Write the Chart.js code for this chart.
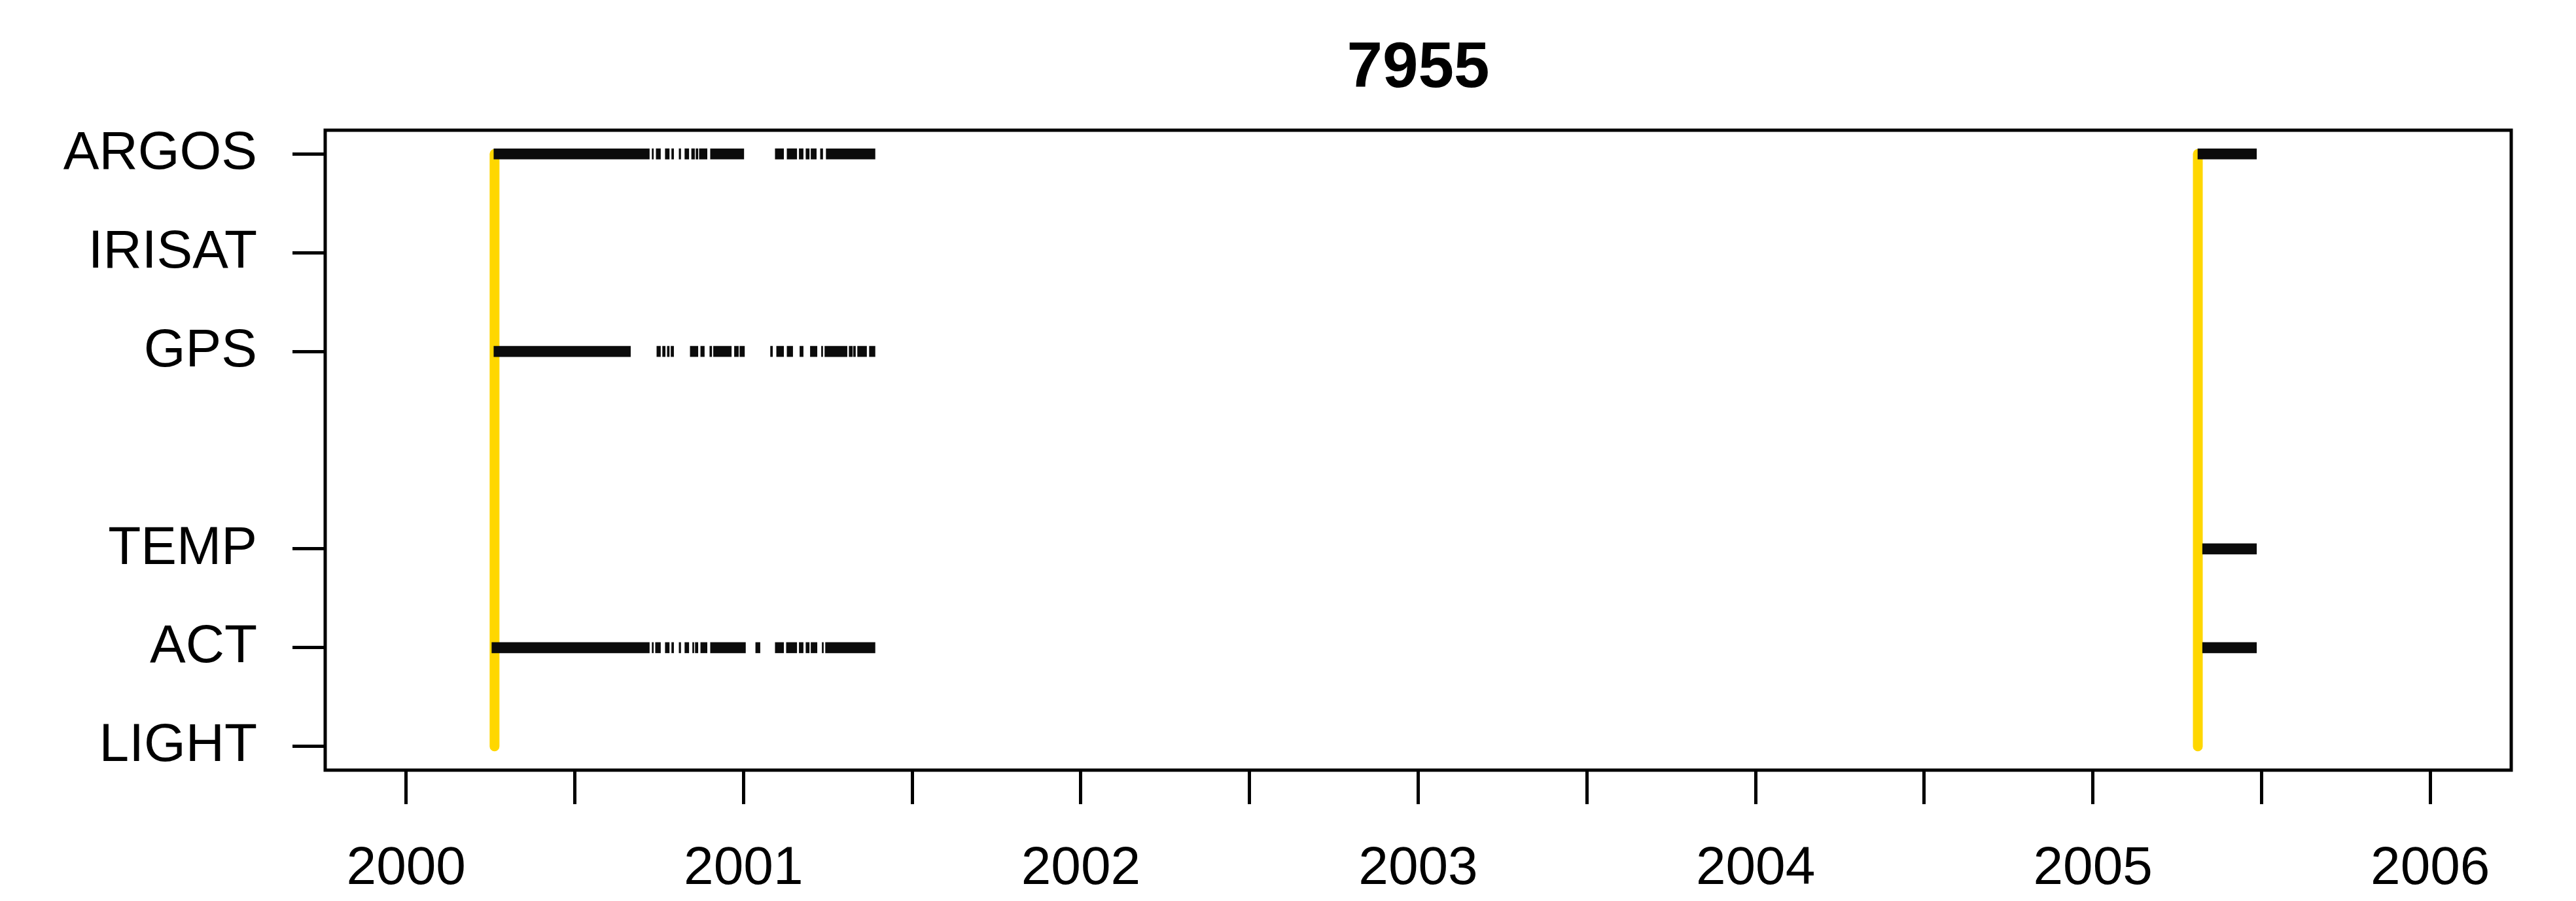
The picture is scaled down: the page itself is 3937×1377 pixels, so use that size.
<!DOCTYPE html>
<html>
<head>
<meta charset="utf-8">
<script src="https://cdn.jsdelivr.net/npm/chart.js@4"></script>
<style>
  html, body { margin: 0; padding: 0; background: #ffffff; }
  #c { display: block; }
</style>
</head>
<body>
<canvas id="c" width="3937" height="1377" style="width:3937px;height:1377px"></canvas>
<script>
// ---- data ----
const chartTitle = '7955';
const categoryLabels = ['', 'LIGHT', 'ACT', 'TEMP', '', 'GPS', 'IRISAT', 'ARGOS']; // index = y level
const yTickValues = [1, 2, 3, 5, 6, 7];
const xTickValues = [2000, 2000.5, 2001, 2001.5, 2002, 2002.5, 2003, 2003.5, 2004, 2004.5, 2005, 2005.5, 2006];
const xTickLabels = ['2000', '', '2001', '', '2002', '', '2003', '', '2004', '', '2005', '', '2006'];

// deployment dates (yellow vertical lines), spanning LIGHT..ARGOS
const deployDates = [2000.262, 2005.311];

// observed spans [start, end] in decimal years per sensor
const argosSpans = [
  [2000.260, 2000.721], [2000.729, 2000.733], [2000.741, 2000.754], [2000.768, 2000.780],
  [2000.787, 2000.793], [2000.809, 2000.814], [2000.826, 2000.838], [2000.846, 2000.855],
  [2000.859, 2000.865], [2000.869, 2000.892], [2000.902, 2001.001], [2001.094, 2001.119],
  [2001.129, 2001.158], [2001.165, 2001.177], [2001.185, 2001.195], [2001.200, 2001.216],
  [2001.228, 2001.235], [2001.245, 2001.390],
  [2005.311, 2005.485]
];
const gpsSpans = [
  [2000.260, 2000.665], [2000.743, 2000.754], [2000.760, 2000.768], [2000.774, 2000.780],
  [2000.785, 2000.793], [2000.842, 2000.865], [2000.873, 2000.884], [2000.900, 2000.906],
  [2000.911, 2000.964], [2000.973, 2000.985], [2000.989, 2001.003], [2001.080, 2001.086],
  [2001.098, 2001.119], [2001.129, 2001.146], [2001.167, 2001.177], [2001.198, 2001.218],
  [2001.231, 2001.235], [2001.241, 2001.307], [2001.313, 2001.323], [2001.326, 2001.332],
  [2001.338, 2001.365], [2001.373, 2001.390]
];
const tempSpans = [
  [2005.325, 2005.485]
];
const actSpans = [
  [2000.254, 2000.721], [2000.729, 2000.733], [2000.739, 2000.754], [2000.768, 2000.780],
  [2000.787, 2000.793], [2000.809, 2000.814], [2000.826, 2000.838], [2000.849, 2000.853],
  [2000.857, 2000.865], [2000.873, 2000.892], [2000.902, 2001.006], [2001.036, 2001.049],
  [2001.094, 2001.119], [2001.127, 2001.158], [2001.165, 2001.177], [2001.185, 2001.195],
  [2001.200, 2001.218], [2001.233, 2001.237], [2001.243, 2001.390],
  [2005.325, 2005.485]
];

const levelOf = { ARGOS: 7, IRISAT: 6, GPS: 5, TEMP: 3, ACT: 2, LIGHT: 1 };

function spansToBars(spans, level) {
  return spans.map(s => ({ x: [s[0], s[1]], y: level }));
}

const FONT = '"Liberation Sans", Arial, Helvetica, sans-serif';

const boxAndTitle = {
  id: 'boxAndTitle',
  afterDraw(chart) {
    const { ctx, chartArea } = chart;
    ctx.save();
    ctx.strokeStyle = '#000';
    ctx.lineWidth = 5;
    ctx.strokeRect(chartArea.left, chartArea.top, chartArea.right - chartArea.left, chartArea.bottom - chartArea.top);
    ctx.fillStyle = '#000';
    ctx.font = 'bold 98px ' + FONT;
    ctx.textAlign = 'center';
    ctx.textBaseline = 'middle';
    ctx.fillText(chartTitle, (chartArea.left + chartArea.right) / 2, 106);
    ctx.restore();
  }
};

const barCommon = {
  type: 'bar',
  indexAxis: 'y',
  backgroundColor: '#0b0b0b',
  borderWidth: 0,
  barThickness: 16,
  grouped: false,
  order: 1
};

const yellowLines = deployDates.map(d => ({
  type: 'line',
  data: [{ x: d, y: levelOf.LIGHT }, { x: d, y: levelOf.ARGOS }],
  borderColor: '#FFD700',
  borderWidth: 15,
  borderCapStyle: 'round',
  pointRadius: 0,
  fill: false,
  order: 2
}));

new Chart(document.getElementById('c'), {
  type: 'bar',
  data: {
    datasets: [
      ...yellowLines,
      Object.assign({ label: 'ARGOS', data: spansToBars(argosSpans, levelOf.ARGOS) }, barCommon),
      Object.assign({ label: 'GPS', data: spansToBars(gpsSpans, levelOf.GPS) }, barCommon),
      Object.assign({ label: 'TEMP', data: spansToBars(tempSpans, levelOf.TEMP) }, barCommon),
      Object.assign({ label: 'ACT', data: spansToBars(actSpans, levelOf.ACT) }, barCommon)
    ]
  },
  options: {
    responsive: false,
    devicePixelRatio: 1,
    animation: false,
    layout: { padding: { top: 199, right: 99, left: 0, bottom: 0 } },
    plugins: { legend: { display: false }, tooltip: { enabled: false }, title: { display: false } },
    scales: {
      x: {
        type: 'linear',
        offset: false,
        min: 1999.76,
        max: 2006.24,
        afterBuildTicks(scale) { scale.ticks = xTickValues.map(v => ({ value: v })); },
        afterFit(scale) { scale.height = 200; },
        ticks: {
          autoSkip: false,
          maxRotation: 0,
          padding: 50,
          color: '#000',
          font: { family: FONT, size: 82 },
          callback(value) {
            const i = xTickValues.indexOf(value);
            return i >= 0 ? xTickLabels[i] : '';
          }
        },
        grid: { display: true, offset: false, drawOnChartArea: false, drawTicks: true, tickLength: 52, lineWidth: 5, tickWidth: 5, tickColor: '#000' },
        border: { display: false }
      },
      y: {
        type: 'linear',
        offset: false,
        min: 0.76,
        max: 7.24,
        afterBuildTicks(scale) { scale.ticks = yTickValues.map(v => ({ value: v })); },
        afterFit(scale) { scale.width = 497; },
        ticks: {
          autoSkip: false,
          padding: 54,
          color: '#000',
          font: { family: FONT, size: 82 },
          callback(value) { return categoryLabels[value] || ''; }
        },
        grid: { display: true, offset: false, drawOnChartArea: false, drawTicks: true, tickLength: 50, lineWidth: 5, tickWidth: 5, tickColor: '#000' },
        border: { display: false }
      }
    }
  },
  plugins: [boxAndTitle]
});
</script>
</body>
</html>
